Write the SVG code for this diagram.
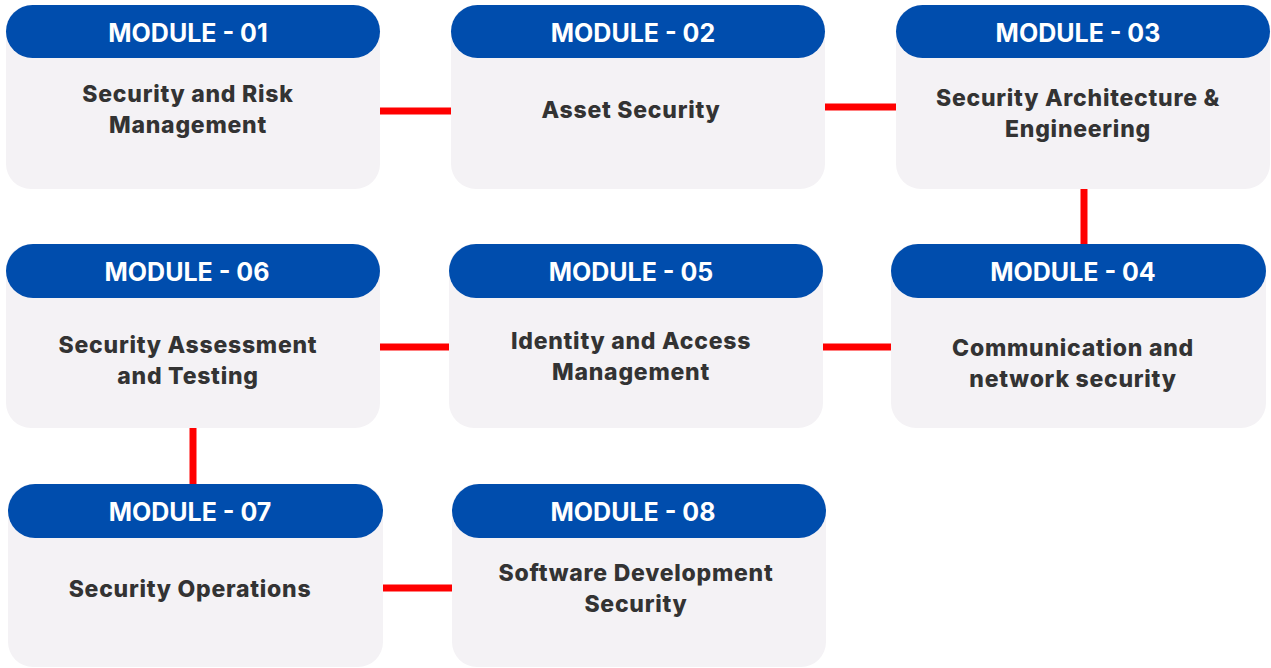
<svg xmlns="http://www.w3.org/2000/svg" width="1271" height="668" viewBox="0 0 1271 668">
<style>
.body{fill:#F4F2F5}
.head{fill:#004DAD}
.ht{font-family:Inter,"Open Sans",sans-serif;font-weight:700;font-size:25px;fill:#FFFFFF;text-anchor:middle}
.bt{font-family:Inter,"Open Sans",sans-serif;font-weight:800;font-size:23px;letter-spacing:0.75px;fill:#333333;text-anchor:middle}
.conn line{stroke:#FF0000;stroke-width:7}
</style>
<rect width="1271" height="668" fill="#FFFFFF"/>
<g class="conn" id="connectors">
<line x1="380" y1="111" x2="451" y2="111"/>
<line x1="825" y1="107" x2="896" y2="107"/>
<line x1="1084" y1="189" x2="1084" y2="244"/>
<line x1="823" y1="347" x2="891" y2="347"/>
<line x1="380" y1="347" x2="449" y2="347"/>
<line x1="193" y1="428" x2="193" y2="484"/>
<line x1="382" y1="588" x2="452" y2="588"/>
</g>
<g id="m01">
<rect class="body" x="6" y="5" width="374" height="184" rx="25"/>
<rect class="head" x="6" y="5" width="374" height="53" rx="26.5"/>
<text class="ht" x="188" y="42">MODULE - 01</text>
<text class="bt" x="188" y="102">Security and Risk</text>
<text class="bt" x="188" y="133">Management</text>
</g>
<g id="m02">
<rect class="body" x="451" y="5" width="374" height="184" rx="25"/>
<rect class="head" x="451" y="5" width="374" height="53" rx="26.5"/>
<text class="ht" x="633" y="42">MODULE - 02</text>
<text class="bt" x="631" y="118">Asset Security</text>
</g>
<g id="m03">
<rect class="body" x="896" y="5" width="374" height="184" rx="25"/>
<rect class="head" x="896" y="5" width="374" height="53" rx="26.5"/>
<text class="ht" x="1078" y="42">MODULE - 03</text>
<text class="bt" x="1078" y="106">Security Architecture &amp;</text>
<text class="bt" x="1078" y="137">Engineering</text>
</g>
<g id="m04">
<rect class="body" x="891" y="244" width="375" height="184" rx="25"/>
<rect class="head" x="891" y="244" width="375" height="54" rx="27"/>
<text class="ht" x="1073" y="281">MODULE - 04</text>
<text class="bt" x="1073" y="356">Communication and</text>
<text class="bt" x="1073" y="387">network security</text>
</g>
<g id="m05">
<rect class="body" x="449" y="244" width="374" height="184" rx="25"/>
<rect class="head" x="449" y="244" width="374" height="54" rx="27"/>
<text class="ht" x="631" y="281">MODULE - 05</text>
<text class="bt" x="631" y="349">Identity and Access</text>
<text class="bt" x="631" y="380">Management</text>
</g>
<g id="m06">
<rect class="body" x="6" y="244" width="374" height="184" rx="25"/>
<rect class="head" x="6" y="244" width="374" height="54" rx="27"/>
<text class="ht" x="187" y="281">MODULE - 06</text>
<text class="bt" x="188" y="353">Security Assessment</text>
<text class="bt" x="188" y="384">and Testing</text>
</g>
<g id="m07">
<rect class="body" x="8" y="484" width="375" height="183" rx="25"/>
<rect class="head" x="8" y="484" width="375" height="54" rx="27"/>
<text class="ht" x="190" y="521">MODULE - 07</text>
<text class="bt" x="190" y="597">Security Operations</text>
</g>
<g id="m08">
<rect class="body" x="452" y="484" width="374" height="183" rx="25"/>
<rect class="head" x="452" y="484" width="374" height="54" rx="27"/>
<text class="ht" x="633" y="521">MODULE - 08</text>
<text class="bt" x="636" y="581">Software Development</text>
<text class="bt" x="636" y="612">Security</text>
</g>
</svg>
